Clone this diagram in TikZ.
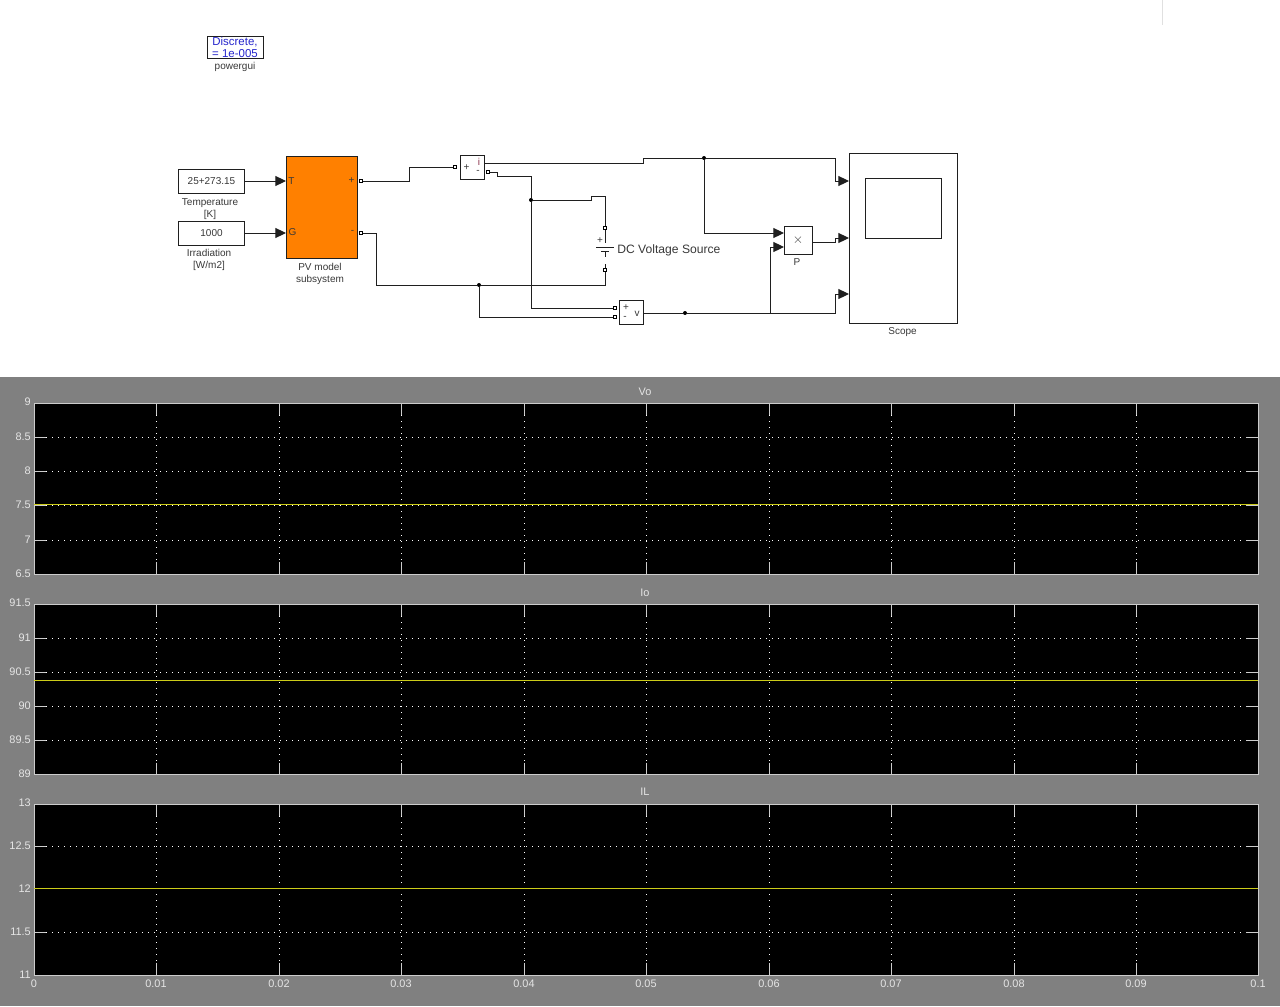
\documentclass[tikz,border=0pt]{standalone}
\usepackage{fontspec}
\setmainfont{Liberation Sans}
\usepackage{xcolor}
\definecolor{PanelGray}{rgb}{0.5, 0.5, 0.5}
\definecolor{AxisGray}{rgb}{0.8, 0.8, 0.8}
\definecolor{AxisText}{rgb}{0.9, 0.9, 0.9}
\definecolor{TraceYellow}{rgb}{0.8, 0.8, 0.1}
\definecolor{BlockOrange}{rgb}{1.0, 0.5, 0.0}
\definecolor{WireBlack}{rgb}{0.12, 0.12, 0.12}
\definecolor{BlockLabel}{rgb}{0.22, 0.22, 0.22}
\definecolor{GuiBlue}{rgb}{0.15, 0.15, 0.8}
\definecolor{PortRed}{rgb}{0.55, 0.2, 0.3}
\usepackage{tikz}
\usetikzlibrary{arrows.meta}
\tikzset{
	block/.style={draw=WireBlack, line width=0.7pt, fill=white, inner sep=0pt, font=\fontsize{7.5}{9}\selectfont, text=BlockLabel},
	caption/.style={inner sep=0pt, align=center, font=\fontsize{7.5}{9}\selectfont, text=BlockLabel},
	portlabel/.style={inner sep=0pt, font=\fontsize{7.5}{9}\selectfont, text=BlockLabel},
	port/.style={draw=black, line width=0.6pt, fill=white, inner sep=0pt, minimum size=2.6pt},
	junction/.style={circle, fill=black, inner sep=0pt, minimum size=3pt},
	wire/.style={draw=WireBlack, line width=0.75pt},
	sig/.style={wire, -{Triangle[length=8pt, width=7.5pt]}},
	axes/.style={draw=AxisGray, line width=0.75pt, fill=black},
	griddots/.style={draw=white, line width=0.55pt, dash pattern=on 1pt off 3.5pt},
	xticks/.style={draw=AxisGray, line width=0.75pt, dash pattern=on 9pt off 110.25pt on 9pt off 500pt},
	yticks/.style={draw=AxisGray, line width=0.75pt, dash pattern=on 9pt off 900pt on 9pt off 900pt},
	trace/.style={draw=TraceYellow, line width=0.75pt},
	axlabel/.style={inner sep=0pt, text=AxisText, font=\fontsize{8.2}{10}\selectfont},
}
\begin{document}
\begin{tikzpicture}[x=0.75pt, y=-0.75pt]
	\useasboundingbox (0,0) rectangle (1280,1006);
	\draw[draw=black!12, line width=0.75pt] (1162,0) -- (1162,25);

	\node[block, minimum width=42pt, minimum height=17pt, align=center, text=GuiBlue, font=\fontsize{8.6}{8.6}\selectfont] (powergui) at (235,47.5) {Discrete,\\= 1e-005};
	\node[caption] (powerguiname) at (235,66.5) {powergui};

	\node[block, minimum width=50pt, minimum height=18pt] (temp) at (211.5,181) {25+273.15};
	\node[caption] (tempname) at (210,209) {Temperature\\{[K]}};
	\node[block, minimum width=50pt, minimum height=18pt] (irr) at (211.5,233) {1000};
	\node[caption] (irrname) at (209,260) {Irradiation\\{[W/m2]}};

	\node[block, fill=BlockOrange, minimum width=53pt, minimum height=76.5pt] (pv) at (321.7,207) {};
	\node[caption] (pvname) at (320,273.5) {PV model\\subsystem};
	\node[portlabel] (pvT) at (291.5,181) {T};
	\node[portlabel] (pvG) at (292.5,232.5) {G};
	\node[portlabel] (pvP) at (351.5,181) {+};
	\node[portlabel] (pvN) at (352.5,232) {-};
	\node[port] (pvout1) at (361,181) {};
	\node[port] (pvout2) at (361,233) {};

	\node[block, minimum width=18pt, minimum height=17.5pt] (amp) at (472,167.5) {};
	\node[portlabel] (ampP) at (466.5,167.5) {+};
	\node[portlabel, text=PortRed] (ampI) at (479,162) {i};
	\node[portlabel] (ampN) at (478,172) {-};
	\node[port] (ampin) at (455,167) {};
	\node[port] (ampout) at (488,172) {};

	\node[port] (dctop) at (605,228) {};
	\node[port] (dcbot) at (605,270) {};
	\coordinate (plateA) at (605,247);
	\coordinate (plateB) at (605,251);
	\draw[wire] (dctop) -- (605,243);
	\draw[wire] (596,247.5) -- (614,247.5);
	\draw[wire] (601,251.5) -- (609,251.5);
	\draw[wire] (plateB) -- (605,257);
	\draw[wire] (605,264) -- (dcbot);
	\node[portlabel] (dcplus) at (600,241) {+};
	\node[inner sep=0pt, anchor=west, text=BlockLabel, font=\fontsize{9.1}{11}\selectfont] (dcname) at (617,250) {DC Voltage Source};

	\node[block, minimum width=18.5pt, minimum height=17.5pt] (volt) at (631.5,312.5) {};
	\node[portlabel] (voltP) at (626,308) {+};
	\node[portlabel] (voltN) at (625,317.5) {-};
	\node[portlabel] (voltV) at (637,313.5) {v};
	\node[port] (voltin1) at (615,308) {};
	\node[port] (voltin2) at (615,317) {};

	\node[block, minimum width=21pt, minimum height=21.5pt, font=\fontsize{10}{10}\selectfont] (prod) at (798,240.5) {$\times$};
	\node[caption] (prodname) at (797,262.5) {P};

	\node[block, minimum width=81.5pt, minimum height=127.5pt] (scope) at (903.5,238) {};
	\node[block, minimum width=57pt, minimum height=45pt] (screen) at (903.5,208) {};
	\node[caption] (scopename) at (902.5,332) {Scope};

	\node[junction] (j1) at (704,158) {};
	\node[junction] (j2) at (531,200) {};
	\node[junction] (j3) at (479,285) {};
	\node[junction] (j4) at (685,313) {};
	\coordinate (j5) at (770,313);
	\coordinate (scopeA) at (849,181);
	\coordinate (scopeB) at (849,238);
	\coordinate (scopeC) at (849,294);
	\coordinate (prodA) at (784,233);
	\coordinate (prodB) at (784,247);

	\draw[sig] (temp.east) -- (286,181);
	\draw[sig] (irr.east) -- (286,233);
	\draw[wire] (pvout1) -- (409,181) -- (409,167) -- (ampin);
	\draw[wire] (amp.east |- 0,163) -- (643,163) -- (643,158) -- (j1);
	\draw[sig] (j1) -- (835,158) -- (835,181) -- (scopeA);
	\draw[sig] (j1) |- (prodA);
	\draw[wire] (ampout) -- (497,172) -- (497,176) -- (531,176) -- (j2);
	\draw[wire] (j2) -- (531,308) -- (voltin1);
	\draw[wire] (j2) -- (591,200) -- (591,196) -- (605,196) -- (dctop);
	\draw[wire] (pvout2) -- (376,233) -- (376,285) -- (j3);
	\draw[wire] (j3) -- (605,285) -- (dcbot);
	\draw[wire] (j3) |- (voltin2);
	\draw[wire] (volt.east |- 0,313) -- (j4);
	\draw[wire] (j4) -- (j5);
	\draw[sig] (j5) -- (835,313) -- (835,294) -- (scopeC);
	\draw[sig] (j5) |- (prodB);
	\draw[sig] (prod.east |- 0,242) -- (835,242) -- (835,238) -- (scopeB);

	\fill[PanelGray] (0,377) rectangle (1280,1006);

	\node[axlabel] (title1) at (645,392) {Vo};
	\draw[axes] (34.5,403.5) rectangle (1258.5,574.5);
	\draw[griddots] (156.5,403) -- (156.5,574) (279.5,403) -- (279.5,574) (401.5,403) -- (401.5,574) (524.5,403) -- (524.5,574) (646.5,403) -- (646.5,574) (769.5,403) -- (769.5,574) (891.5,403) -- (891.5,574) (1014.5,403) -- (1014.5,574) (1136.5,403) -- (1136.5,574);
	\draw[griddots] (34,437.5) -- (1258,437.5) (34,471.5) -- (1258,471.5) (34,505.5) -- (1258,505.5) (34,540.5) -- (1258,540.5);
	\draw[xticks] (156.5,403) -- (156.5,574) (279.5,403) -- (279.5,574) (401.5,403) -- (401.5,574) (524.5,403) -- (524.5,574) (646.5,403) -- (646.5,574) (769.5,403) -- (769.5,574) (891.5,403) -- (891.5,574) (1014.5,403) -- (1014.5,574) (1136.5,403) -- (1136.5,574);
	\draw[yticks] (34,437.5) -- (1258,437.5) (34,471.5) -- (1258,471.5) (34,505.5) -- (1258,505.5) (34,540.5) -- (1258,540.5);
	\draw[trace] (34,504.5) -- (1258,504.5);
	\node[axlabel, anchor=east] (a9) at (31,402) {9};
	\node[axlabel, anchor=east] (a85) at (31,437) {8.5};
	\node[axlabel, anchor=east] (a8) at (31,471) {8};
	\node[axlabel, anchor=east] (a75) at (31,505) {7.5};
	\node[axlabel, anchor=east] (a7) at (31,540) {7};
	\node[axlabel, anchor=east] (a65) at (31,574) {6.5};

	\node[axlabel] (title2) at (645,593) {Io};
	\draw[axes] (34.5,604.5) rectangle (1258.5,774.5);
	\draw[griddots] (156.5,604) -- (156.5,774) (279.5,604) -- (279.5,774) (401.5,604) -- (401.5,774) (524.5,604) -- (524.5,774) (646.5,604) -- (646.5,774) (769.5,604) -- (769.5,774) (891.5,604) -- (891.5,774) (1014.5,604) -- (1014.5,774) (1136.5,604) -- (1136.5,774);
	\draw[griddots] (34,638.5) -- (1258,638.5) (34,672.5) -- (1258,672.5) (34,706.5) -- (1258,706.5) (34,740.5) -- (1258,740.5);
	\draw[xticks] (156.5,604) -- (156.5,774) (279.5,604) -- (279.5,774) (401.5,604) -- (401.5,774) (524.5,604) -- (524.5,774) (646.5,604) -- (646.5,774) (769.5,604) -- (769.5,774) (891.5,604) -- (891.5,774) (1014.5,604) -- (1014.5,774) (1136.5,604) -- (1136.5,774);
	\draw[yticks] (34,638.5) -- (1258,638.5) (34,672.5) -- (1258,672.5) (34,706.5) -- (1258,706.5) (34,740.5) -- (1258,740.5);
	\draw[trace] (34,680.5) -- (1258,680.5);
	\node[axlabel, anchor=east] (b915) at (31,603) {91.5};
	\node[axlabel, anchor=east] (b91) at (31,638) {91};
	\node[axlabel, anchor=east] (b905) at (31,672) {90.5};
	\node[axlabel, anchor=east] (b90) at (31,706) {90};
	\node[axlabel, anchor=east] (b895) at (31,740) {89.5};
	\node[axlabel, anchor=east] (b89) at (31,774) {89};

	\node[axlabel] (title3) at (645,792) {IL};
	\draw[axes] (34.5,804.5) rectangle (1258.5,975.5);
	\draw[griddots] (156.5,804) -- (156.5,975) (279.5,804) -- (279.5,975) (401.5,804) -- (401.5,975) (524.5,804) -- (524.5,975) (646.5,804) -- (646.5,975) (769.5,804) -- (769.5,975) (891.5,804) -- (891.5,975) (1014.5,804) -- (1014.5,975) (1136.5,804) -- (1136.5,975);
	\draw[griddots] (34,846.5) -- (1258,846.5) (34,932.5) -- (1258,932.5);
	\draw[xticks] (156.5,804) -- (156.5,975) (279.5,804) -- (279.5,975) (401.5,804) -- (401.5,975) (524.5,804) -- (524.5,975) (646.5,804) -- (646.5,975) (769.5,804) -- (769.5,975) (891.5,804) -- (891.5,975) (1014.5,804) -- (1014.5,975) (1136.5,804) -- (1136.5,975);
	\draw[yticks] (34,846.5) -- (1258,846.5) (34,932.5) -- (1258,932.5);
	\draw[trace] (34,888.5) -- (1258,888.5);
	\node[axlabel, anchor=east] (c13) at (31,803) {13};
	\node[axlabel, anchor=east] (c125) at (31,846) {12.5};
	\node[axlabel, anchor=east] (c12) at (31,889) {12};
	\node[axlabel, anchor=east] (c115) at (31,932) {11.5};
	\node[axlabel, anchor=east] (c11) at (31,975) {11};

	\node[axlabel] (t0) at (34,983.5) {0};
	\node[axlabel] (t1) at (156,983.5) {0.01};
	\node[axlabel] (t2) at (279,983.5) {0.02};
	\node[axlabel] (t3) at (401,983.5) {0.03};
	\node[axlabel] (t4) at (524,983.5) {0.04};
	\node[axlabel] (t5) at (646,983.5) {0.05};
	\node[axlabel] (t6) at (769,983.5) {0.06};
	\node[axlabel] (t7) at (891,983.5) {0.07};
	\node[axlabel] (t8) at (1014,983.5) {0.08};
	\node[axlabel] (t9) at (1136,983.5) {0.09};
	\node[axlabel] (t10) at (1258,983.5) {0.1};
\end{tikzpicture}
\end{document}
